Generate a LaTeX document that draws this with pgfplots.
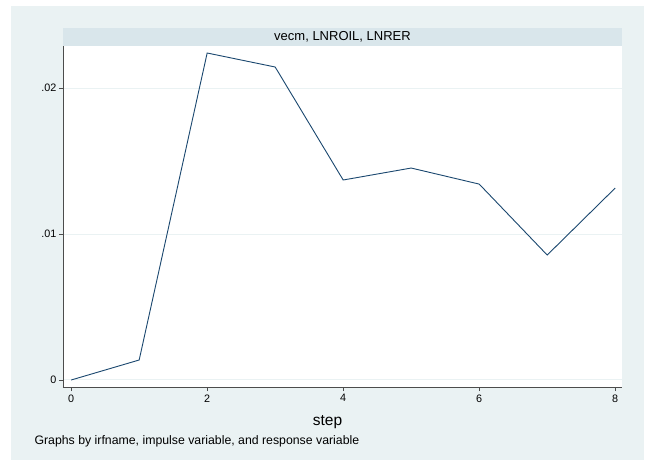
\documentclass[border=0pt]{standalone}
\usepackage{pgfplots}
\pgfplotsset{compat=1.18}
\usepackage{fontspec}
\setmainfont{Liberation Sans}
\definecolor{bgc}{RGB}{234,242,243}
\definecolor{hdr}{RGB}{217,230,235}
\definecolor{navy}{RGB}{26,71,111}
\begin{document}
\begin{tikzpicture}[x=1pt,y=1pt]
\path (-63,-74) rectangle (589,387);
\fill[bgc] (-52,-73) rectangle (581,381);
\fill[hdr] (0,341) rectangle (559,359);
\node[font=\fontsize{13}{15}\selectfont] at (279.5,350) {vecm, LNROIL, LNRER};
\begin{axis}[at={(0,0)}, anchor=south west, scale only axis,
  width=559pt, height=341pt,
  xmin=-0.12, xmax=8.1, ymin=-0.00048, ymax=0.02288,
  axis x line*=bottom, axis y line*=left,
  axis line style={-, line width=0.8pt, color=black!70},
  axis background/.style={fill=white},
  xtick={0,2,4,6,8}, ytick={0,0.01,0.02}, yticklabels={0,.01,.02},
  scaled y ticks=false,
  tick align=outside, major tick length=4pt,
  tick style={black!70, line width=0.6pt},
  ymajorgrids, grid style={bgc, line width=1pt},
  /pgf/number format/assume math mode=true,
  tick label style={font=\fontsize{10.8}{12}\selectfont},
  yticklabel style={xshift=1pt},
  xlabel={step},
  xlabel style={at={(axis description cs:0.4732,-0.1026)}, anchor=center, font=\fontsize{15.5}{17}\selectfont},
  clip=false,
]
\addplot[navy, line width=0.9pt] coordinates {
(0,0) (1,0.00137) (2,0.0224) (3,0.02144) (4,0.0137) (5,0.01452) (6,0.01342) (7,0.00856) (8,0.01315)};
\end{axis}
\node[anchor=west, font=\fontsize{12.3}{14}\selectfont] at (-32,-54) {Graphs by irfname, impulse variable, and response variable};
\end{tikzpicture}
\end{document}
